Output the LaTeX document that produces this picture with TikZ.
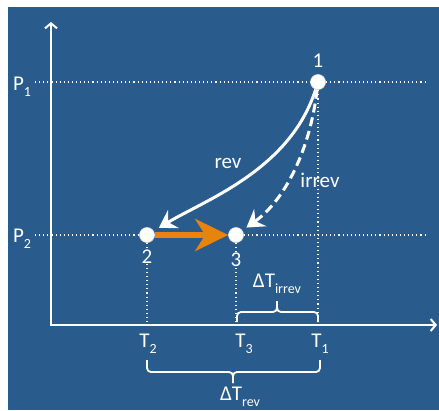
\documentclass[tikz,border=0pt]{standalone}
\usepackage{fontspec}
\setmainfont{Carlito}
\usetikzlibrary{arrows.meta}
\definecolor{bgblue}{RGB}{41,92,141}
\definecolor{orng}{RGB}{232,131,12}
\newcommand{\sbs}[1]{\raisebox{-0.3em}{\fontsize{14}{14}\selectfont #1}}
\begin{document}
\begin{tikzpicture}[x=1pt,y=-1pt,
  lbl/.style={text=white,font=\fontsize{21}{24}\selectfont,inner sep=0pt,anchor=base},
  dotline/.style={white,line width=1.1pt,dash pattern=on 1.1pt off 3pt},
  axisline/.style={white,line width=2pt,line join=miter},
  pt/.style={circle,fill=white,draw=black!12,line width=0.6pt,minimum size=15pt,inner sep=0pt},
  curve/.style={white,line width=3pt,-{Stealth[length=17pt,width=21pt,inset=6pt]}},
  brc/.style={white,line width=1.8pt,rounded corners=4pt}
]
\useasboundingbox (0,0) rectangle (439,410);
\fill[white] (0,0) rectangle (439,410);
\fill[bgblue] (8,7) rectangle (439,410);

% coordinates
\coordinate (O) at (51,325);
\coordinate (ytop) at (51,22);
\coordinate (xend) at (437,325);
\coordinate (c1) at (318,82);
\coordinate (c2) at (147,235);
\coordinate (c3) at (236,235);
\coordinate (P1l) at (35,82);
\coordinate (P1r) at (427,82);
\coordinate (P2l) at (35,235);
\coordinate (P2r) at (427,235);

% dotted guide lines
\draw[dotline] (P1l) -- (P1r);
\draw[dotline] (P2l) -- (P2r);
\draw[dotline] (c1) -- (c1 |- O);
\draw[dotline] (c2) -- (c2 |- O);
\draw[dotline] (c3) -- (c3 |- O);

% axes
\draw[axisline,{Straight Barb[length=5pt,width=12pt]}-{Straight Barb[length=5pt,width=12pt]}] (xend) -- (O) -- (ytop);

% braces
\draw[brc] (237,322) -- (237,312) -- (277,312) -- (277,301);
\draw[brc] (318,322) -- (318,312) -- (277,312) -- (277,301);
\draw[brc] (147,360) -- (147,372) -- (233,372) -- (233,383);
\draw[brc] (320,360) -- (320,372) -- (233,372) -- (233,383);

% state points
\node[pt] (p1) at (c1) {};
\node[pt] (p2) at (c2) {};
\node[pt] (p3) at (c3) {};

% processes
\draw[curve,shorten >=6pt] (p1) .. controls (290,170) and (205,200) .. (p2);
\draw[curve,dash pattern=on 9pt off 5pt,shorten >=5pt] (p1) .. controls (310,150) and (285,200) .. (p3);
\draw[orng,line width=6pt,-{Stealth[length=33pt,width=32pt,inset=10pt]}] (p2) -- (p3);

% labels
\node[lbl] (lP1) at (22,90) {P\sbs{1}};
\node[lbl] (lP2) at (22,242) {P\sbs{2}};
\node[lbl] (l1) at (318,67) {1};
\node[lbl,fill=bgblue] (l2) at (147,263) {2};
\node[lbl,fill=bgblue] (l3) at (236,266) {3};
\node[lbl] (lrev) at (228,168) {rev};
\node[lbl] (lirrev) at (320,187) {irrev};
\node[lbl] (lT2) at (148,347) {T\sbs{2}};
\node[lbl] (lT3) at (244,347) {T\sbs{3}};
\node[lbl] (lT1) at (320,347) {T\sbs{1}};
\node[lbl] (ldTi) at (277,287) {ΔT\sbs{irrev}};
\node[lbl] (ldTr) at (240,400) {ΔT\sbs{rev}};
\end{tikzpicture}
\end{document}
